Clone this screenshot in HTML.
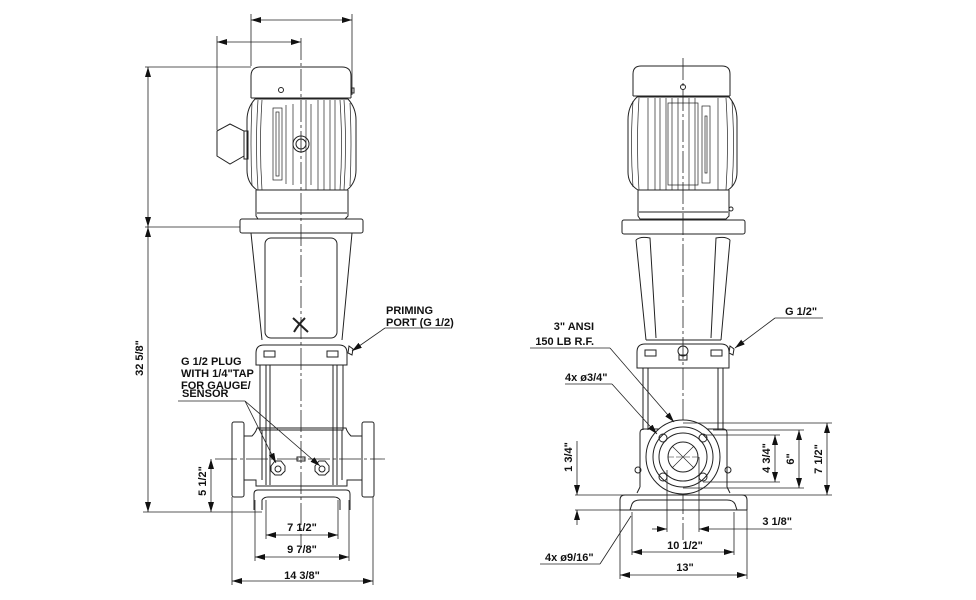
<!DOCTYPE html>
<html><head><meta charset="utf-8"><style>
html,body{margin:0;padding:0;background:#fff;}
svg{display:block;}
text{font-family:"Liberation Sans",Arial,sans-serif;font-weight:bold;font-size:11px;fill:#111;}
</style></head><body>
<svg width="976" height="600" viewBox="0 0 976 600" xmlns="http://www.w3.org/2000/svg">
<defs>
<marker id="a" viewBox="0 0 10 6" refX="10" refY="3" markerWidth="10" markerHeight="6" orient="auto-start-reverse" markerUnits="userSpaceOnUse"><path d="M0,0 L10,3 L0,6 z" fill="#111"/></marker>
</defs>
<g fill="none" stroke="#222" stroke-width="1">
<line x1="301" y1="38" x2="301" y2="545" stroke-dasharray="22,3,3,3" stroke-width="0.8"/>
<path d="M251,98 V76 Q251,67 260,67 H342 Q351,67 351,76 V98"/>
<line x1="251" y1="98" x2="351" y2="98"/>
<circle cx="281" cy="90" r="2.5"/>
<rect x="352" y="88" width="2" height="5"/>
<path d="M255,99 Q247,108 247,120 V170 Q247,183 257,190 H347 Q356,183 356,170 V120 Q356,108 348,99 Z"/>
<g stroke-width="0.7">
<path d="M252,103 Q250,145 252,186"/><path d="M258,100 Q255,145 258,190"/>
<path d="M262,100 Q259,145 262,190"/><path d="M350,103 Q352,145 350,186"/>
<path d="M344,100 Q347,145 344,190"/><path d="M340,100 Q343,145 340,190"/>
<line x1="286" y1="105" x2="286" y2="184"/><line x1="293" y1="104" x2="293" y2="185"/>
<line x1="311" y1="104" x2="311" y2="185"/><line x1="318" y1="100" x2="318" y2="190"/>
<line x1="324" y1="100" x2="324" y2="190"/><line x1="330" y1="100" x2="330" y2="190"/>
<line x1="335" y1="100" x2="335" y2="190"/><line x1="306" y1="100" x2="306" y2="190"/>
<rect x="273" y="108" width="9" height="72"/><rect x="276" y="112" width="3" height="64"/>
</g>
<circle cx="301" cy="144" r="8"/><circle cx="301" cy="144" r="5"/>
<path d="M217,131 L230,124 L244,131 V156 L230,164 L217,156 Z"/>
<rect x="244" y="131" width="4" height="28"/>
<path d="M256,190 V216 L258,219 H345 L348,216 V190"/>
<line x1="257" y1="213" x2="347" y2="213"/>
<rect x="240" y="219" width="123" height="14" rx="2"/>
<path d="M251,233 L262,340 M352,233 L342,340"/>
<rect x="265" y="238" width="72" height="100" rx="6"/>
<path d="M293,318 L308,332 M305,318 Q298,325 294,332" stroke-width="2"/>
<path d="M256,365 V353 Q256,345 264,345 H339 Q347,345 347,353 V365 Z"/>
<rect x="264" y="351" width="11" height="6"/><rect x="327" y="351" width="11" height="6"/>
<path d="M349,346 l4,3 l-1,6 l-4,-2 z"/>
<rect x="260" y="365" width="83" height="65"/>
<line x1="266" y1="365" x2="266" y2="485"/><line x1="270" y1="365" x2="270" y2="485"/>
<line x1="333" y1="365" x2="333" y2="485"/><line x1="337" y1="365" x2="337" y2="485"/>
<path d="M244,436 H252 Q256,432 257,428 H346 Q347,432 351,436 H362 M244,480 H256 V486 H347 V480 H362"/>
<rect x="232" y="422" width="12" height="75" rx="2"/>
<rect x="362" y="422" width="12" height="75" rx="2"/>
<path d="M262,430 V480 M342,430 V480"/>
<path d="M271,466 l4,-5 h6 l4,5 v5 l-4,4 h-6 l-4,-4 z"/><circle cx="278" cy="469" r="3"/>
<path d="M315,466 l4,-5 h6 l4,5 v5 l-4,4 h-6 l-4,-4 z"/><circle cx="322" cy="469" r="3"/>
<rect x="297" y="457" width="8" height="4"/>
<path d="M254,510 V494 Q254,490 258,490 H346 Q350,490 350,494 V510"/>
<path d="M262,510 V500 Q264,497 268,497 H334 Q338,497 340,500 V510"/>
<line x1="215" y1="459" x2="385" y2="459" stroke-dasharray="22,3,3,3" stroke-width="0.7"/>
<g stroke-width="0.8">
<line x1="251" y1="14" x2="251" y2="66"/><line x1="352" y1="14" x2="352" y2="95"/>
<line x1="251" y1="20" x2="352" y2="20" marker-start="url(#a)" marker-end="url(#a)"/>
<line x1="217" y1="36" x2="217" y2="130"/>
<line x1="217" y1="42" x2="301" y2="42" marker-start="url(#a)" marker-end="url(#a)"/>
<line x1="145" y1="67" x2="251" y2="67"/>
<line x1="145" y1="227" x2="240" y2="227"/>
<line x1="143" y1="512" x2="262" y2="512"/>
<line x1="148" y1="67" x2="148" y2="227" marker-start="url(#a)" marker-end="url(#a)"/>
<line x1="148" y1="227" x2="148" y2="512" marker-start="url(#a)" marker-end="url(#a)"/>
<line x1="211" y1="459" x2="211" y2="512" marker-start="url(#a)" marker-end="url(#a)"/>
<line x1="266" y1="500" x2="266" y2="539"/><line x1="338" y1="500" x2="338" y2="539"/>
<line x1="266" y1="535" x2="338" y2="535" marker-start="url(#a)" marker-end="url(#a)"/>
<line x1="255" y1="500" x2="255" y2="561"/><line x1="349" y1="500" x2="349" y2="561"/>
<line x1="255" y1="557" x2="349" y2="557" marker-start="url(#a)" marker-end="url(#a)"/>
<line x1="232" y1="497" x2="232" y2="585"/><line x1="373" y1="497" x2="373" y2="585"/>
<line x1="232" y1="581" x2="373" y2="581" marker-start="url(#a)" marker-end="url(#a)"/>
<line x1="385" y1="328" x2="450" y2="328"/>
<line x1="385" y1="328" x2="352" y2="351" marker-end="url(#a)"/>
<line x1="178" y1="401" x2="245" y2="401"/>
<line x1="245" y1="401" x2="276" y2="463" marker-end="url(#a)"/>
<line x1="245" y1="401" x2="320" y2="466" marker-end="url(#a)"/>
</g>

<line x1="683" y1="58" x2="683" y2="540" stroke-dasharray="22,3,3,3" stroke-width="0.8"/>
<path d="M633,96 V74 Q633,66 641,66 H722 Q730,66 730,74 V96"/>
<line x1="633" y1="96" x2="730" y2="96"/>
<circle cx="683" cy="87" r="2.5"/>
<path d="M637,97 Q628,106 628,120 V172 Q628,184 638,190 H728 Q737,184 737,172 V120 Q737,106 729,97 Z"/>
<g stroke-width="0.7">
<path d="M633,101 Q630,145 633,187"/><path d="M639,98 Q636,145 639,190"/>
<path d="M732,101 Q735,145 732,187"/><path d="M726,98 Q729,145 726,190"/>
<line x1="648" y1="98" x2="648" y2="190"/><line x1="655" y1="98" x2="655" y2="190"/>
<line x1="660" y1="98" x2="660" y2="190"/><line x1="666" y1="98" x2="666" y2="190"/>
<line x1="672" y1="98" x2="672" y2="190"/><line x1="678" y1="98" x2="678" y2="190"/>
<line x1="689" y1="98" x2="689" y2="190"/><line x1="695" y1="98" x2="695" y2="190"/>
<line x1="718" y1="98" x2="718" y2="190"/>
<rect x="668" y="103" width="30" height="82"/>
<rect x="702" y="106" width="8" height="77"/><rect x="705" y="116" width="2" height="57"/>
</g>
<path d="M638,190 V216 L640,219 H726 L729,216 V190"/>
<line x1="639" y1="212" x2="728" y2="212"/>
<circle cx="731" cy="209" r="2"/>
<rect x="622" y="220" width="123" height="14" rx="2"/>
<path d="M636,240 L646,340 M730,240 L721,340"/>
<path d="M636,240 Q640,236 650,238 L656,338 M730,240 Q726,236 716,238 L711,338"/>
<line x1="646" y1="340" x2="721" y2="340"/>
<path d="M637,368 V352 Q637,344 645,344 H721 Q729,344 729,352 V368 Z"/>
<rect x="645" y="350" width="11" height="6"/><rect x="711" y="350" width="11" height="6"/>
<circle cx="683" cy="351" r="5"/><rect x="679" y="355" width="8" height="5"/>
<path d="M730,346 l4,3 l-1,6 l-4,-2 z"/>
<line x1="643" y1="368" x2="643" y2="430"/><line x1="648" y1="368" x2="648" y2="430"/>
<line x1="718" y1="368" x2="718" y2="430"/><line x1="723" y1="368" x2="723" y2="430"/>
<path d="M640,487 V433 Q640,429 644,429 H723 Q727,429 727,433 V487"/>
<path d="M640,487 L637,493 M727,487 L730,493"/>
<circle cx="638" cy="470" r="3"/><circle cx="728" cy="470" r="3"/>
<circle cx="683" cy="457" r="37" fill="#fff"/>
<circle cx="683" cy="457" r="30"/>
<circle cx="683" cy="457" r="24"/>
<circle cx="683" cy="457" r="15"/>
<g stroke-width="0.6"><line x1="668" y1="457" x2="698" y2="457" stroke-dasharray="6,2"/>
<line x1="672" y1="446" x2="694" y2="468"/><line x1="672" y1="468" x2="694" y2="446"/></g>
<circle cx="663" cy="438" r="4"/><circle cx="703" cy="438" r="4"/>
<circle cx="663" cy="477" r="4"/><circle cx="703" cy="477" r="4"/>
<path d="M620,510 V500 Q620,495 625,495 H742 Q747,495 747,500 V510"/>
<path d="M630,510 L632,504 Q634,500 640,500 H727 Q733,500 735,504 L737,510"/>
<line x1="620" y1="510" x2="747" y2="510"/>
<g stroke-width="0.8">
<line x1="575" y1="495" x2="832" y2="495"/>
<line x1="575" y1="510" x2="620" y2="510"/>
<line x1="577" y1="441" x2="577" y2="495" marker-end="url(#a)"/>
<line x1="577" y1="525" x2="577" y2="510" marker-end="url(#a)"/>
<line x1="683" y1="423" x2="832" y2="423"/>
<line x1="713" y1="430" x2="804" y2="430"/>
<line x1="703" y1="435" x2="780" y2="435"/>
<line x1="703" y1="482" x2="780" y2="482"/>
<line x1="683" y1="488" x2="804" y2="488"/>
<line x1="775" y1="435" x2="775" y2="482" marker-start="url(#a)" marker-end="url(#a)"/>
<line x1="799" y1="430" x2="799" y2="488" marker-start="url(#a)" marker-end="url(#a)"/>
<line x1="827" y1="423" x2="827" y2="495" marker-start="url(#a)" marker-end="url(#a)"/>
<line x1="667" y1="470" x2="667" y2="532"/><line x1="699" y1="457" x2="699" y2="532"/>
<line x1="652" y1="529" x2="667" y2="529" marker-end="url(#a)"/>
<line x1="792" y1="529" x2="699" y2="529" marker-end="url(#a)"/>
<line x1="632" y1="512" x2="632" y2="555"/><line x1="734" y1="512" x2="734" y2="555"/>
<line x1="632" y1="552" x2="734" y2="552" marker-start="url(#a)" marker-end="url(#a)"/>
<line x1="620" y1="510" x2="620" y2="579"/><line x1="747" y1="510" x2="747" y2="579"/>
<line x1="620" y1="575" x2="747" y2="575" marker-start="url(#a)" marker-end="url(#a)"/>
<line x1="530" y1="348" x2="610" y2="348"/>
<line x1="610" y1="348" x2="674" y2="422" marker-end="url(#a)"/>
<line x1="565" y1="384" x2="612" y2="384"/>
<line x1="612" y1="384" x2="657" y2="434" marker-end="url(#a)"/>
<line x1="775" y1="318" x2="823" y2="318"/>
<line x1="775" y1="318" x2="735" y2="348" marker-end="url(#a)"/>
<line x1="540" y1="564" x2="600" y2="564"/>
<line x1="600" y1="564" x2="631" y2="516"/>
</g>
</g>

<text x="386" y="314">PRIMING</text>
<text x="386" y="326">PORT (G 1/2)</text>
<text x="181" y="365">G 1/2 PLUG</text>
<text x="181" y="377">WITH 1/4"TAP</text>
<text x="181" y="389">FOR GAUGE/</text>
<text x="182" y="397">SENSOR</text>
<text transform="translate(143,358) rotate(-90)" text-anchor="middle">32  5/8"</text>
<text transform="translate(206,481) rotate(-90)" text-anchor="middle">5 1/2"</text>
<text x="302" y="531" text-anchor="middle">7 1/2"</text>
<text x="302" y="553" text-anchor="middle">9 7/8"</text>
<text x="302" y="579" text-anchor="middle">14 3/8"</text>
<text x="785" y="315">G 1/2"</text>
<text x="594" y="330" text-anchor="end">3" ANSI</text>
<text x="594" y="345" text-anchor="end">150 LB R.F.</text>
<text x="565" y="381">4x ø3/4"</text>
<text x="545" y="561">4x ø9/16"</text>
<text transform="translate(572,457) rotate(-90)" text-anchor="middle">1 3/4"</text>
<text transform="translate(770,458) rotate(-90)" text-anchor="middle">4 3/4"</text>
<text transform="translate(794,459) rotate(-90)" text-anchor="middle">6"</text>
<text transform="translate(822,459) rotate(-90)" text-anchor="middle">7 1/2"</text>
<text x="792" y="525" text-anchor="end">3 1/8"</text>
<text x="685" y="549" text-anchor="middle">10 1/2"</text>
<text x="685" y="571" text-anchor="middle">13"</text>
</svg>
</body></html>
